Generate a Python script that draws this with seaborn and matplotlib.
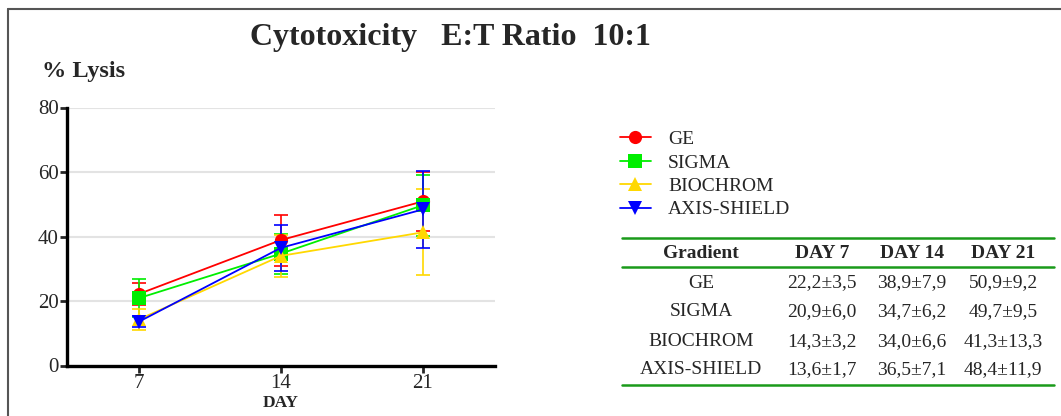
import matplotlib
matplotlib.use("Agg")
import matplotlib.pyplot as plt
from matplotlib.lines import Line2D
import seaborn as sns
import pandas as pd

days = [7, 14, 21]
series = ["GE", "SIGMA", "BIOCHROM", "AXIS-SHIELD"]
ge_mean = [22.2, 38.9, 50.9]
ge_sd = [3.5, 7.9, 9.2]
sigma_mean = [20.9, 34.7, 49.7]
sigma_sd = [6.0, 6.2, 9.5]
biochrom_mean = [14.3, 34.0, 41.3]
biochrom_sd = [3.2, 6.6, 13.3]
axis_mean = [13.6, 36.5, 48.4]
axis_sd = [1.7, 7.1, 11.9]
yticks = [0, 20, 40, 60, 80]
table_header = ["Gradient", "DAY 7", "DAY 14", "DAY 21"]

means = [ge_mean, sigma_mean, biochrom_mean, axis_mean]
sds = [ge_sd, sigma_sd, biochrom_sd, axis_sd]
colors = {"GE": "#FF0000", "SIGMA": "#00EE00", "BIOCHROM": "#FFD800", "AXIS-SHIELD": "#0000FF"}
markers = {"GE": "o", "SIGMA": "s", "BIOCHROM": "^", "AXIS-SHIELD": "v"}

rows = []
for name, m, s in zip(series, means, sds):
    for d, mv, sv in zip(days, m, s):
        rows.append({"Gradient": name, "Day": d, "Lysis": mv, "SD": sv})
df = pd.DataFrame(rows)

sns.set_style("white")
plt.rcParams["font.family"] = ["Liberation Serif", "DejaVu Serif"]

W, H = 1061, 416
fig = plt.figure(figsize=(W / 100, H / 100), dpi=100)
fig.patch.set_facecolor("white")

def fx(px):
    return px / W

def fy(py):
    return 1 - py / H

ax_bottom, ax_top = 365.5, 107.5
ax = fig.add_axes([fx(67), fy(ax_bottom), fx(495) - fx(67), fy(ax_top) - fy(ax_bottom)])

for name, m, s in zip(series, means, sds):
    ax.errorbar(days, m, yerr=s, fmt="none", ecolor=colors[name], elinewidth=1.2,
                capsize=5, capthick=1.2, zorder=2)

sns.lineplot(data=df, x="Day", y="Lysis", hue="Gradient", style="Gradient",
             hue_order=series, style_order=series, palette=colors, markers=markers,
             dashes=False, markersize=9.5, markeredgewidth=0, linewidth=1.3, ax=ax,
             zorder=3, legend=True)

ax.set_xlim(3.45, 24.55)
ax.set_ylim(0, 80)
ax.set_xticks(days)
ax.set_xticklabels([str(d) for d in days])
ax.set_yticks(yticks)
ax.set_yticklabels([str(v) for v in yticks])
for v in yticks[1:]:
    ax.axhline(v, color="#E3E3E3", linewidth=1.5, zorder=0)
for side in ["top", "right"]:
    ax.spines[side].set_visible(False)
for side in ["left", "bottom"]:
    ax.spines[side].set_linewidth(2.4)
    ax.spines[side].set_color("black")
ax.tick_params(axis="both", which="major", direction="out", length=5, width=2,
               labelsize=15, pad=1, left=True, bottom=True)
ax.set_xlabel("DAY", fontsize=12.5, fontweight="bold", va="center")
ax.xaxis.set_label_coords(0.5, -(403 - ax_bottom) / (ax_bottom - ax_top))
ax.set_ylabel("")

handles, labels = ax.get_legend_handles_labels()
hl = [(h, l) for h, l in zip(handles, labels) if l in series]
ax.get_legend().remove()
fig.legend([h for h, _ in hl], [l for _, l in hl], loc="upper left",
           bbox_to_anchor=(fx(602), fy(113)), frameon=False, fontsize=14,
           handlelength=1.6, handletextpad=0.9, labelspacing=0.3)

fig.text(fx(450), fy(38), "Cytotoxicity   E:T Ratio  10:1", ha="center", va="center",
         fontsize=23, fontweight="bold")
fig.text(fx(42), fy(71), "% Lysis", ha="left", va="center", fontsize=17.5, fontweight="bold")

# frame lines
fig.add_artist(Line2D([fx(8), fx(8)], [fy(9), 0], color="#555555", linewidth=1.5))
fig.add_artist(Line2D([fx(8), 1], [fy(9), fy(9)], color="#555555", linewidth=1.5))

# summary table
col_x = [701, 822, 912, 1003]
row_y = [283, 312, 342, 370]
green = "#1A9A1A"
for px in [237.5, 267, 385]:
    fig.add_artist(Line2D([fx(622), fx(1054)], [fy(px), fy(px)], color=green, linewidth=1.8))
for cx, t in zip(col_x, table_header):
    fig.text(fx(cx), fy(253), t, ha="center", va="center", fontsize=14, fontweight="bold")

def fmt(v):
    return f"{v:.1f}".replace(".", ",")

for ry, name, m, s in zip(row_y, series, means, sds):
    fig.text(fx(col_x[0]), fy(ry), name, ha="center", va="center", fontsize=14)
    for cx, mv, sv in zip(col_x[1:], m, s):
        fig.text(fx(cx), fy(ry), f"{fmt(mv)}±{fmt(sv)}", ha="center", va="center", fontsize=14)

fig.savefig("out.png", dpi=100)
